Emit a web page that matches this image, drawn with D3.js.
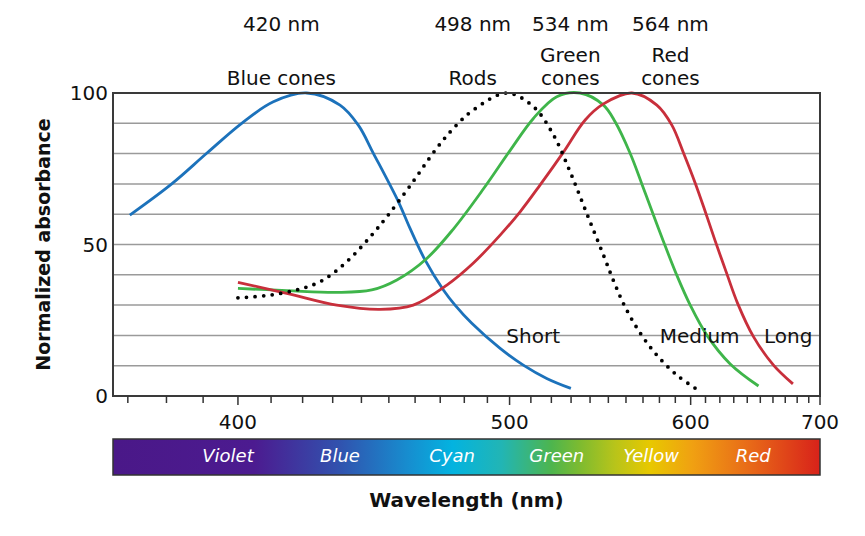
<!DOCTYPE html>
<html>
<head>
<meta charset="utf-8">
<script src="https://cdn.jsdelivr.net/npm/d3@7"></script>
<style>
  body { margin: 0; background: #fff; }
  svg { display: block; font-family: "DejaVu Sans", Verdana, sans-serif; }
</style>
</head>
<body>
<svg id="chart" width="865" height="536"></svg>
<script>
// wavelength (nm) / normalized absorbance
const blueNm  = [370.5, 381.4, 391.0, 401.1, 410.7, 421.3, 432.5, 438.9, 444.3, 453.6, 458.0, 463.9, 471.3, 476.1, 483.2, 495.7, 506.4, 517.7, 529.9];
const blueAbs = [59.7, 70.0, 80.1, 90.0, 97.1, 100, 96.0, 89.4, 80.1, 64.1, 55.4, 44.9, 35.0, 30.0, 24.0, 15.7, 10.2, 5.8, 2.5];

const rodNm  = [400.0, 409.7, 419.2, 425.7, 430.8, 437.1, 443.7, 449.2, 458.0, 468.6, 476.1, 483.9, 498.7, 511.2, 521.1, 529.5, 538.2, 547.3, 553.2, 559.5, 568.3, 578.4, 591.0, 604.2];
const rodAbs = [32.4, 33.3, 35.3, 37.7, 41.0, 46.4, 53.1, 59.1, 69.3, 81.8, 88.9, 94.4, 100, 95.5, 86.1, 74.0, 60.3, 46.5, 37.6, 29.4, 20.8, 13.5, 6.9, 2.2];

const greenNm  = [400.0, 414.9, 431.4, 443.7, 453.0, 464.6, 475.4, 488.2, 500.2, 511.2, 522.7, 534.7, 547.3, 553.8, 562.4, 569.3, 576.3, 582.5, 591.0, 599.7, 610.9, 627.4, 648.6];
const greenAbs = [35.5, 34.8, 34.2, 35.0, 38.3, 45.4, 55.1, 68.3, 81.0, 91.6, 98.8, 100, 96.0, 90.5, 80.1, 70.0, 59.7, 51.0, 39.8, 30.0, 20.1, 10.6, 3.3];

const redNm  = [400.0, 414.9, 431.4, 446.7, 459.3, 472.7, 483.9, 495.7, 504.9, 514.4, 526.1, 537.4, 547.3, 563.4, 578.4, 587.8, 595.3, 603.0, 609.8, 616.7, 625.0, 632.9, 644.7, 660.4, 676.4];
const redAbs = [37.5, 33.9, 30.0, 28.6, 30.0, 36.6, 43.9, 53.1, 60.8, 69.6, 80.5, 91.1, 96.4, 100, 96.0, 89.4, 80.2, 70.3, 60.9, 51.2, 40.3, 30.5, 19.6, 10.2, 4.0];

const xMinorTicks = d3.range(370, 701, 10);
const xMajorTicks = [400, 500, 600, 700];
const yTickLabels = [0, 50, 100];
const yGrid = d3.range(10, 100, 10);

const peakLabels = ["420 nm", "498 nm", "534 nm", "564 nm"];
const peakLabelNm = [413.2, 483.6, 529.6, 586.9];
const typeLabels = ["Short", "Medium", "Long"];
const typeLabelNm = [511.1, 606.0, 672.4];
const spectrumNames = ["Violet", "Blue", "Cyan", "Green", "Yellow", "Red"];
const spectrumNm = [397.1, 432.5, 474.9, 522.7, 574.9, 644.5];

const svg = d3.select("#chart");

// plot box
const plotLeft = 113, plotRight = 820, plotTop = 93, plotBottom = 396;

// wavelength axis is linear in 1/λ (wavenumber)
const inv = d3.scaleLinear()
  .domain([1 / 366.3, 1 / 700])
  .range([plotLeft, plotRight]);
const x = nm => inv(1 / nm);

const y = d3.scaleLinear().domain([0, 100]).range([plotBottom, plotTop]);

// grid
svg.append("g")
  .selectAll("line")
  .data(yGrid)
  .join("line")
    .attr("x1", plotLeft).attr("x2", plotRight)
    .attr("y1", d => y(d)).attr("y2", d => y(d))
    .attr("stroke", "#9a9a9a")
    .attr("stroke-width", 1.5);

// curves
const line = d3.line()
  .x(d => x(d[0]))
  .y(d => y(d[1]))
  .curve(d3.curveCatmullRom.alpha(0.5));

const curves = [
  { nm: blueNm,  abs: blueAbs,  color: "#1c72bb", dash: null },
  { nm: greenNm, abs: greenAbs, color: "#3fb54a", dash: null },
  { nm: redNm,   abs: redAbs,   color: "#c82f3b", dash: null },
  { nm: rodNm,   abs: rodAbs,   color: "#000",    dash: "0 8.6" }
];

curves.forEach(c => {
  const pts = c.nm.map((d, i) => [d, c.abs[i]]);
  const p = svg.append("path")
    .attr("d", line(pts))
    .attr("fill", "none")
    .attr("stroke", c.color)
    .attr("stroke-width", c.dash ? 3.8 : 2.8);
  if (c.dash) p.attr("stroke-dasharray", c.dash).attr("stroke-linecap", "round");
});

// frame
svg.append("rect")
  .attr("x", plotLeft).attr("y", plotTop)
  .attr("width", plotRight - plotLeft).attr("height", plotBottom - plotTop)
  .attr("fill", "none")
  .attr("stroke", "#3a3a3a")
  .attr("stroke-width", 2);

// x ticks
svg.append("g")
  .selectAll("line")
  .data(xMinorTicks)
  .join("line")
    .attr("x1", d => x(d)).attr("x2", d => x(d))
    .attr("y1", plotBottom)
    .attr("y2", d => plotBottom + (xMajorTicks.includes(d) ? 9 : 7))
    .attr("stroke", "#333")
    .attr("stroke-width", 1.5);

svg.append("g")
  .selectAll("text")
  .data(xMajorTicks)
  .join("text")
    .attr("x", d => x(d))
    .attr("y", 429)
    .attr("text-anchor", "middle")
    .attr("font-size", 20)
    .attr("fill", "#111")
    .text(d => d);

// y tick labels
svg.append("g")
  .selectAll("text")
  .data(yTickLabels)
  .join("text")
    .attr("x", 108)
    .attr("y", d => y(d))
    .attr("dy", "0.36em")
    .attr("text-anchor", "end")
    .attr("font-size", 20)
    .attr("fill", "#111")
    .text(d => d);

// axis titles
svg.append("text")
  .attr("transform", `translate(50, ${(plotTop + plotBottom) / 2}) rotate(-90)`)
  .attr("text-anchor", "middle")
  .attr("font-size", 19)
  .attr("font-weight", "bold")
  .attr("fill", "#111")
  .text("Normalized absorbance");

svg.append("text")
  .attr("x", (plotLeft + plotRight) / 2)
  .attr("y", 507)
  .attr("text-anchor", "middle")
  .attr("font-size", 20)
  .attr("font-weight", "bold")
  .attr("fill", "#111")
  .text("Wavelength (nm)");

// peak labels
const labels = svg.append("g")
  .attr("font-size", 20)
  .attr("fill", "#111")
  .attr("text-anchor", "middle");

peakLabels.forEach((t, i) => {
  labels.append("text").attr("x", x(peakLabelNm[i])).attr("y", 31).text(t);
});

const coneNames = [["Blue cones"], ["Rods"], ["Green", "cones"], ["Red", "cones"]];
coneNames.forEach((rows, i) => {
  rows.forEach((t, j) => {
    labels.append("text")
      .attr("x", x(peakLabelNm[i]))
      .attr("y", 85 - (rows.length - 1 - j) * 23.5)
      .text(t);
  });
});

typeLabels.forEach((t, i) => {
  labels.append("text").attr("x", x(typeLabelNm[i])).attr("y", 343).text(t);
});

// spectrum bar
const defs = svg.append("defs");
const grad = defs.append("linearGradient").attr("id", "spectrum");
const stops = [
  [0, "#4a1888"], [0.2, "#4c1b90"], [0.32, "#3152ae"], [0.42, "#168fd0"],
  [0.48, "#03b3e0"], [0.55, "#22b5b4"], [0.62, "#4db54e"], [0.66, "#7dbb30"],
  [0.71, "#b8c41a"], [0.76, "#e8c800"], [0.82, "#f0a012"], [0.9, "#e86a18"],
  [1, "#d8221a"]
];
grad.selectAll("stop")
  .data(stops)
  .join("stop")
    .attr("offset", d => d[0])
    .attr("stop-color", d => d[1]);

svg.append("rect")
  .attr("x", plotLeft).attr("y", 439)
  .attr("width", plotRight - plotLeft).attr("height", 36)
  .attr("fill", "url(#spectrum)")
  .attr("stroke", "#333")
  .attr("stroke-width", 1.5);

svg.append("g")
  .selectAll("text")
  .data(spectrumNames)
  .join("text")
    .attr("x", (d, i) => x(spectrumNm[i]))
    .attr("y", 462)
    .attr("text-anchor", "middle")
    .attr("font-size", 18)
    .attr("font-style", "italic")
    .attr("fill", "#fff")
    .text(d => d);
</script>
</body>
</html>
